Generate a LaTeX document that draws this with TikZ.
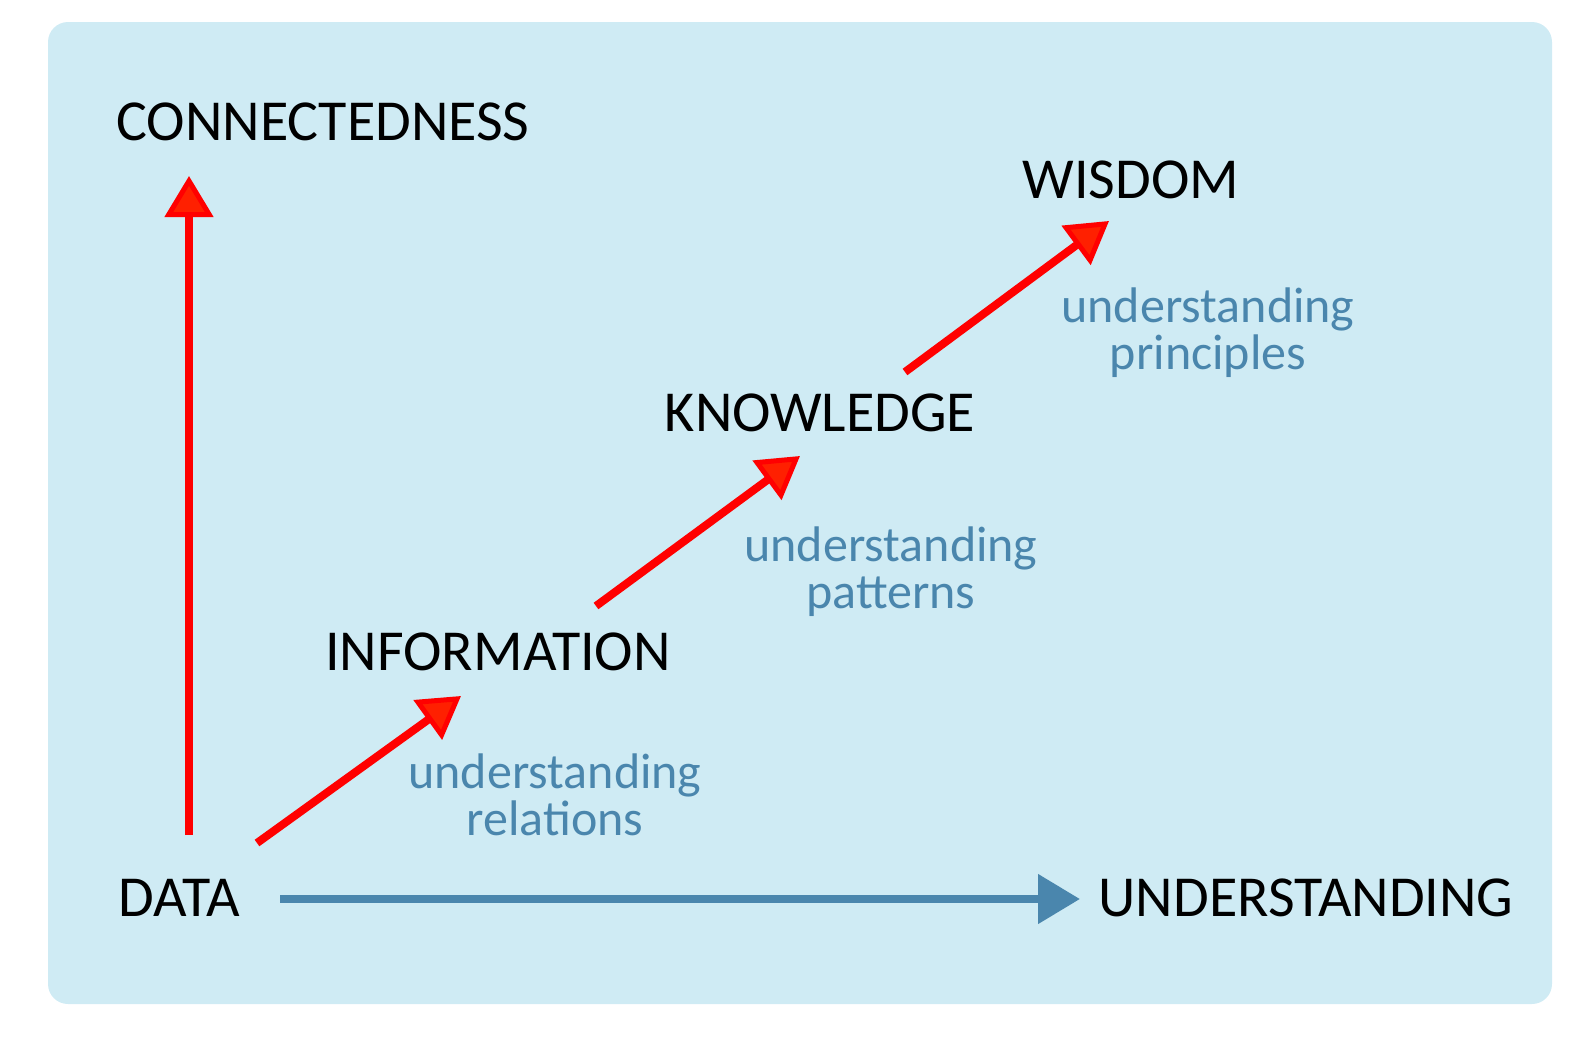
\documentclass[tikz,border=0pt]{standalone}
\usepackage{fontspec}
\setmainfont{Carlito}
\usetikzlibrary{arrows.meta}
\definecolor{panel}{HTML}{CFEBF4}
\definecolor{steel}{HTML}{4A86AD}
\definecolor{tipred}{HTML}{FF2000}
\begin{document}
\begin{tikzpicture}[x=0.5pt,y=-0.5pt,
  level/.style={font=\fontsize{29}{34}\selectfont, text=black, inner sep=0pt, anchor=base},
  note/.style={font=\fontsize{25}{29}\selectfont, text=steel, inner sep=0pt, anchor=base},
  rise/.style={draw=red, line width=4pt,
    -{Triangle[length=20.5pt, width=24pt, fill=tipred, line width=2.5pt]}},
  axis/.style={draw=steel, line width=4pt,
    -{Triangle[length=21pt, width=24pt]}}]
\useasboundingbox (0,0) rectangle (1596,1040);
\fill[panel, rounded corners=10pt] (48,22) rectangle (1552,1004);

% stage labels
\node[level] (conn) at (323,140) {CONNECTEDNESS};
\node[level] (wis)  at (1131,198) {WISDOM};
\node[level] (know) at (820,431) {KNOWLEDGE};
\node[level] (info) at (498,670) {INFORMATION};
\node[level] (data) at (179,916) {DATA};
\node[level] (und)  at (1306,916) {UNDERSTANDING};

% transition notes
\node[note] (n1a) at (555,788) {understanding};
\node[note] (n1b) at (555,835) {relations};
\node[note] (n2a) at (891,561) {understanding};
\node[note] (n2b) at (891,608) {patterns};
\node[note] (n3a) at (1208,322) {understanding};
\node[note] (n3b) at (1208,369) {principles};

% arrow end points
\coordinate (vS) at (189,835);
\coordinate (vE) at (189,176);
\coordinate (aS) at (257,843);
\coordinate (aE) at (461,696);
\coordinate (bS) at (596,606);
\coordinate (bE) at (800,456);
\coordinate (cS) at (905,372);
\coordinate (cE) at (1109,221);
\coordinate (hS) at (280,899);
\coordinate (hE) at (1080,899);

\draw[rise] (vS) -- (vE);
\draw[rise] (aS) -- (aE);
\draw[rise] (bS) -- (bE);
\draw[rise] (cS) -- (cE);
\draw[axis] (hS) -- (hE);
\end{tikzpicture}
\end{document}
